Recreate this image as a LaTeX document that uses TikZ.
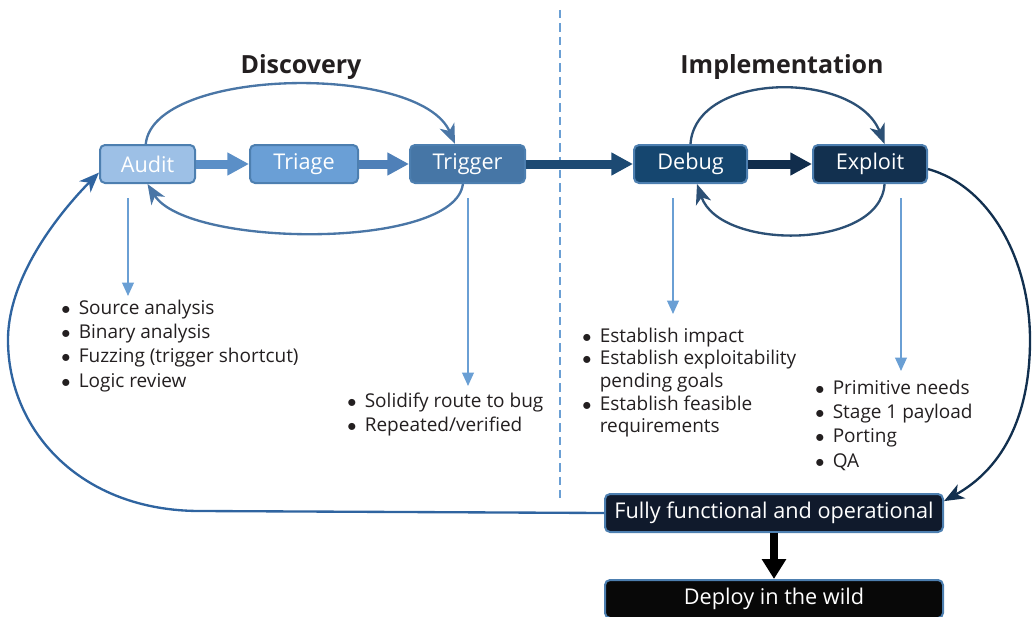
\documentclass[tikz,border=0pt]{standalone}
\usepackage{fontspec}
\setmainfont{Open Sans}
\usepackage{xcolor}
\usetikzlibrary{arrows.meta}
\usetikzlibrary{positioning}

\definecolor{textogris}{HTML}{231F20}
\definecolor{borde}{HTML}{4D7FB0}
\definecolor{auditfill}{HTML}{9DC0E6}
\definecolor{triagefill}{HTML}{6A9FD6}
\definecolor{triggerfill}{HTML}{4676A6}
\definecolor{debugfill}{HTML}{15466F}
\definecolor{exploitfill}{HTML}{12304F}
\definecolor{fullyfill}{HTML}{101A2C}
\definecolor{deployfill}{HTML}{080808}
\definecolor{azulclaro}{HTML}{6A9FD4}
\definecolor{azullazo}{HTML}{4A76A6}
\definecolor{azuloscuro}{HTML}{2C5075}
\definecolor{azulvuelta}{HTML}{2F64A0}

\newcommand{\punto}{$\bullet$}

\begin{document}
\begin{tikzpicture}[x=0.6pt, y=-0.6pt,
  caja/.style={draw=borde, line width=1.2pt, rounded corners=3pt, text=white,
    font=\fontsize{13}{14}\selectfont, minimum height=22.8pt, inner sep=0pt},
  grueso/.style={line width=5.4pt, -{Triangle[length=13pt,width=13pt]}},
  lazo/.style={line width=1.4pt, -{Stealth[length=12pt,width=9.5pt,inset=3.5pt]}},
  baja/.style={draw=azulclaro, line width=1pt, -{Triangle[length=8pt,width=7pt]}, shorten <=8.4pt},
  lista/.style={anchor=base west, inner sep=0pt, text=textogris, font=\fontsize{11.4}{14.6}\selectfont},
  titulo/.style={text=textogris, font=\bfseries\fontsize{15}{18}\selectfont}]

\useasboundingbox (0,0) rectangle (1033,617);

% Titulos
\node[titulo] (disc) at (301,67) {Discovery};
\node[titulo] (impl) at (782,67) {Implementation};
\draw[azulclaro, line width=1.3pt, dash pattern=on 5pt off 3pt] (560,10) -- (560,500);

% Cajas
\node[caja, fill=auditfill, minimum width=57pt] (audit) at (147.5,164) {Audit};
\node[caja, fill=triagefill, minimum width=64.8pt] (triage) at (304,164) {Triage};
\node[caja, fill=triggerfill, minimum width=69pt] (trigger) at (467.5,164) {Trigger};
\node[caja, fill=debugfill, minimum width=67.8pt] (debug) at (690.5,164) {Debug};
\node[caja, fill=exploitfill, minimum width=68.4pt] (exploit) at (870,164) {Exploit};
\node[caja, fill=fullyfill, minimum width=202.8pt] (fully) at (774,513) {Fully functional and operational};
\node[caja, fill=deployfill, minimum width=202.8pt] (deploy) at (774,599) {Deploy in the wild};

% Flechas gruesas
\draw[grueso, color={rgb,255:red,91;green,143;blue,199}] (audit) -- (triage);
\draw[grueso, color={rgb,255:red,79;green,128;blue,184}] (triage) -- (trigger);
\draw[grueso, color={rgb,255:red,29;green,74;blue,115}] (trigger) -- (debug);
\draw[grueso, color={rgb,255:red,17;green,45;blue,76}] (debug) -- (exploit);
\draw[line width=5pt, -{Triangle[length=12pt,width=14pt]}, black] (fully) -- (deploy);

% Lazos
\draw[lazo, azullazo] (audit.95) .. controls +(8,-77) and +(-35,-81) .. (trigger.122);
\draw[lazo, azullazo] (trigger.-103) .. controls +(-8,66) and +(40,64) .. (audit.south);
\draw[lazo, azuloscuro] (debug.north) .. controls +(5,-73) and +(-29,-74) .. (exploit.54);
\draw[lazo, azuloscuro] (exploit.-54) .. controls +(-4,66) and +(23,67) .. (debug.-72);

% Vueltas grandes
\coordinate (der) at (1030,340);
\coordinate (codo) at (200,511);
\coordinate (izq) at (8,340);
\draw[lazo, exploitfill] (exploit.-5) .. controls +(62,17) and (1030,260) .. (der)
  .. controls (1030,420) and (1000,470) .. (fully.4);
\draw[lazo, azulvuelta] (fully.west) -- (codo) .. controls (80,511) and (8,430) .. (izq)
  .. controls (8,275) and (62,210) .. (audit.190);

% Listas
\node[lista] (auditlista) at (61,314) {\begin{tabular}[t]{@{}l@{\hspace{5pt}}l@{}}
\punto & Source analysis\\
\punto & Binary analysis\\
\punto & Fuzzing (trigger shortcut)\\
\punto & Logic review
\end{tabular}};
\node[lista] (triggerlista) at (347,407) {\begin{tabular}[t]{@{}l@{\hspace{5pt}}l@{}}
\punto & Solidify route to bug\\
\punto & Repeated/verified
\end{tabular}};
\node[lista, font=\fontsize{11.4}{13.6}\selectfont] (debuglista) at (582,342) {\begin{tabular}[t]{@{}l@{\hspace{5pt}}l@{}}
\punto & Establish impact\\
\punto & Establish exploitability\\
 & pending goals\\
\punto & Establish feasible\\
 & requirements
\end{tabular}};
\node[lista] (exploitlista) at (815,394) {\begin{tabular}[t]{@{}l@{\hspace{5pt}}l@{}}
\punto & Primitive needs\\
\punto & Stage 1 payload\\
\punto & Porting\\
\punto & QA
\end{tabular}};

% Flechas a las listas
\coordinate (a1) at (128,296);
\coordinate (a2) at (468,386);
\coordinate (a3) at (673,314);
\coordinate (a4) at (901,371);
\draw[baja] (audit.south -| a1) -- (a1);
\draw[baja] (trigger.south -| a2) -- (a2);
\draw[baja] (debug.south -| a3) -- (a3);
\draw[baja] (exploit.south -| a4) -- (a4);

\end{tikzpicture}
\end{document}
